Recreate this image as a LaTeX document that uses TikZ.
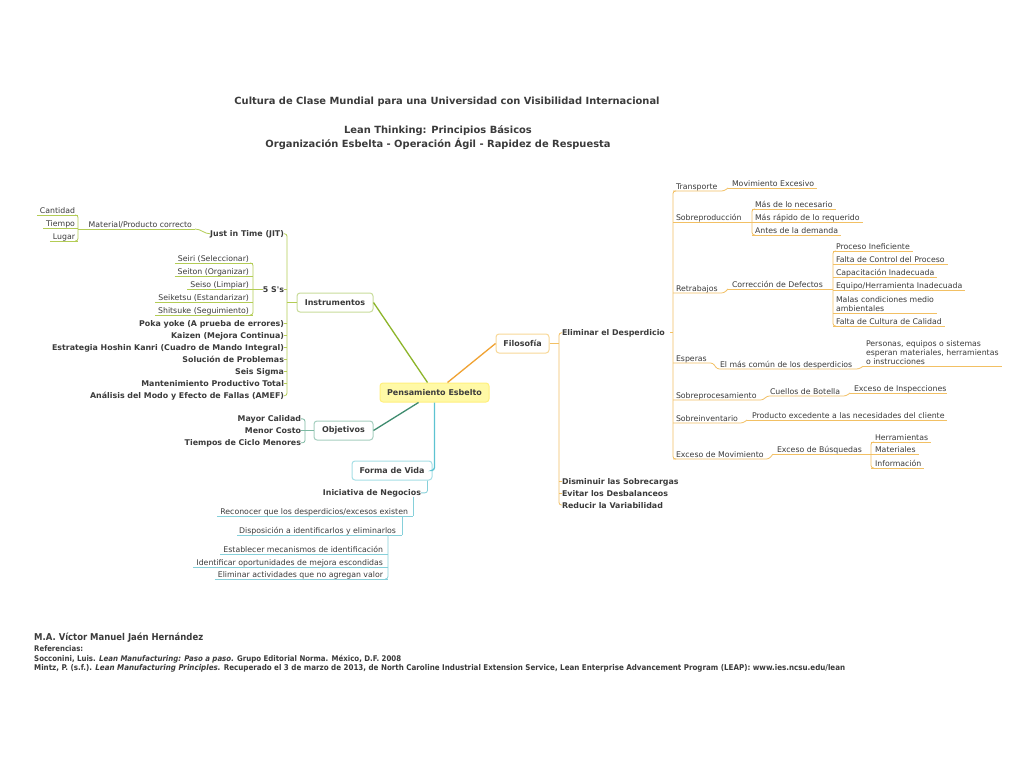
\documentclass[tikz,border=0pt]{standalone}
\usepackage{graphicx}
\usepackage{fontspec}
\setmainfont{DejaVu Sans}
\newfontfamily\condfont{DejaVu Sans Condensed}
\usetikzlibrary{calc}
\definecolor{txt}{HTML}{3B3B3B}
\definecolor{gLine}{HTML}{B3CC55}
\definecolor{gMain}{HTML}{8DB52A}
\definecolor{gBox}{HTML}{C9DC9A}
\definecolor{oLine}{HTML}{F2C064}
\definecolor{oMain}{HTML}{F0A232}
\definecolor{oBox}{HTML}{F8D898}
\definecolor{tLine}{HTML}{7DB9A3}
\definecolor{tMain}{HTML}{3F8C6F}
\definecolor{tBox}{HTML}{A6CFC0}
\definecolor{cLine}{HTML}{86D0DA}
\definecolor{cMain}{HTML}{5CC3D1}
\definecolor{cBox}{HTML}{A6DFE6}
\definecolor{ceFill}{HTML}{FFF9A6}
\definecolor{ceBorder}{HTML}{FFF07E}
% underline below a one-line node: left extension, right extension
\newcommand\ulR[3]{\draw ([xshift=-#2,yshift=-2pt]#1.base west) coordinate (#1-l) -- ([xshift=#3,yshift=-2pt]#1.base east) coordinate (#1-r);}
\newcommand\ulS[3]{\draw ([xshift=-#2,yshift=-2pt]#1.south west) coordinate (#1-l) -- ([xshift=#3,yshift=-2pt]#1.south east) coordinate (#1-r);}
\newcommand\lpt[2]{\coordinate (#1-l) at ([xshift=-#2,yshift=-2pt]#1.base west);}
\begin{document}
\begin{tikzpicture}[x=1pt,y=-1pt,
  every node/.style={text=txt},
  tx/.style={inner sep=0pt,outer sep=0pt,font=\fontsize{7.8}{9.1}\selectfont},
  bx/.style={inner sep=0pt,outer sep=0pt,font=\fontsize{7.9}{9.6}\selectfont\bfseries},
  topic/.style={draw,rounded corners=3pt,line width=1pt,fill=white,minimum height=19pt,inner sep=0pt,font=\fontsize{8}{9.6}\selectfont\bfseries},
  ln/.style={line width=0.8pt,rounded corners=2.5pt},
  mainln/.style={line width=1.3pt},
  ttl/.style={inner sep=0pt,font=\fontsize{9.9}{12}\selectfont\bfseries},
  foot/.style={inner sep=0pt,anchor=west,font=\condfont\bfseries\fontsize{8}{9}\selectfont}]
\useasboundingbox[fill=white] (0,0) rectangle (1024,768);

% titles
\node[ttl] (t1) at (447,102) {Cultura de Clase Mundial para una Universidad con Visibilidad Internacional};
\node[ttl] (t2) at (438,131) {Lean Thinking: Principios Básicos};
\node[ttl] (t3) at (438,144) {Organización Esbelta - Operación Ágil - Rapidez de Respuesta};

% central topic
\node[topic,draw=ceBorder,fill=ceFill,minimum width=109pt] (pe) at (434.5,392.5) {Pensamiento Esbelto};

% ---------------- Instrumentos (green)
\node[topic,draw=gBox,minimum width=76pt] (inst) at (335,302.5) {Instrumentos};
\draw[gMain,mainln] ([xshift=-7pt]pe.north) -- (inst.east);
\node[bx,anchor=base east] (jit) at (284,236) {Just in Time (JIT)};
\node[bx,anchor=base east] (s5) at (284,292) {5 S\textquotesingle s};
\node[bx,anchor=base east] (poka) at (284,326) {Poka yoke (A prueba de errores)};
\node[bx,anchor=base east] (kai) at (284,338) {Kaizen (Mejora Continua)};
\node[bx,anchor=base east] (hosh) at (284,350) {Estrategia Hoshin Kanri (Cuadro de Mando Integral)};
\node[bx,anchor=base east] (sol) at (284,362) {Solución de Problemas};
\node[bx,anchor=base east] (seis) at (284,374) {Seis Sigma};
\node[bx,anchor=base east] (mant) at (284,386) {Mantenimiento Productivo Total};
\node[bx,anchor=base east] (amef) at (284,398) {Análisis del Modo y Efecto de Fallas (AMEF)};
\begin{scope}[gLine,ln]
\coordinate (itr) at ([xshift=3pt]jit.east);
\draw (jit.east) -- (itr) |- (amef.east);
\foreach \nn in {s5,poka,kai,hosh,sol,seis,mant} \draw (\nn.east) -- (\nn.east -| itr);
\draw (inst.west) -- (inst.west -| itr);
\end{scope}
\node[tx,anchor=base east] (mat) at (192,227) {Material/Producto correcto};
\node[tx,anchor=base east] (cant) at (75,213) {Cantidad};
\node[tx,anchor=base east] (tiem) at (75,226) {Tiempo};
\node[tx,anchor=base east] (lug) at (75,239) {Lugar};
\node[tx,anchor=base east] (seiri) at (249,261) {Seiri (Seleccionar)};
\node[tx,anchor=base east] (seiton) at (249,274) {Seiton (Organizar)};
\node[tx,anchor=base east] (seiso) at (249,287) {Seiso (Limpiar)};
\node[tx,anchor=base east] (seiket) at (249,300) {Seiketsu (Estandarizar)};
\node[tx,anchor=base east] (shits) at (249,313) {Shitsuke (Seguimiento)};
\begin{scope}[gLine,ln]
\ulR{cant}{3pt}{3pt}\ulR{tiem}{3pt}{3pt}\ulR{lug}{3pt}{3pt}
\draw ([xshift=-3pt]cant-r) -- (cant-r) -- (lug-r) -- ([xshift=-3pt]lug-r);
\draw ([xshift=3pt,yshift=-2pt]mat.base east) coordinate (mat-r) -- (mat-r -| cant-r);
\draw (mat-r) to[out=0,in=180] (jit.west);
\ulR{seiri}{3pt}{4pt}\ulR{seiton}{3pt}{4pt}\ulR{seiso}{3pt}{4pt}\ulR{seiket}{3pt}{4pt}\ulR{shits}{3pt}{4pt}
\draw ([xshift=-3pt]seiri-r) -- (seiri-r) -- (shits-r) -- ([xshift=-3pt]shits-r);
\draw (s5.west) -- (s5.west -| seiri-r);
\end{scope}

% ---------------- Objetivos (teal)
\node[topic,draw=tBox,minimum width=59pt] (obj) at (343.5,430.5) {Objetivos};
\draw[tMain,mainln] ([xshift=-16pt]pe.south) -- (obj.east);
\node[bx,anchor=base east] (mayor) at (301,421) {Mayor Calidad};
\node[bx,anchor=base east] (menor) at (301,433) {Menor Costo};
\node[bx,anchor=base east] (tiempos) at (301,445) {Tiempos de Ciclo Menores};
\begin{scope}[tLine,ln]
\coordinate (otr) at ([xshift=4pt]mayor.east);
\draw (mayor.east) -- (otr) |- (tiempos.east);
\draw (menor.east) -- (menor.east -| otr);
\draw (obj.west) -- (obj.west -| otr);
\end{scope}

% ---------------- Forma de Vida (cyan)
\node[topic,draw=cBox,minimum width=80pt] (fv) at (392,470.5) {Forma de Vida};
\draw[cMain,mainln,rounded corners=3pt] (pe.south) |- (fv.east);
\node[bx,anchor=base east] (ini) at (421,495) {Iniciativa de Negocios};
\node[tx,anchor=base east] (rec) at (408,514) {Reconocer que los desperdicios/excesos existen};
\node[tx,anchor=base east] (disp) at (396,533) {Disposición a identificarlos y eliminarlos};
\node[tx,anchor=base east] (est) at (383,552) {Establecer mecanismos de identificación};
\node[tx,anchor=base east] (ident) at (383,565) {Identificar oportunidades de mejora escondidas};
\node[tx,anchor=base east] (elimv) at (383,577) {Eliminar actividades que no agregan valor};
\begin{scope}[cLine,ln]
\draw ([xshift=-5pt]fv.south east) |- (ini.east);
\ulR{rec}{3pt}{5pt}
\draw (rec-r |- ini.south) -- (rec-r);
\ulR{disp}{2pt}{6pt}
\draw (disp-r |- rec-r) -- (disp-r);
\ulR{est}{3pt}{5pt}\ulR{ident}{3pt}{5pt}\ulR{elimv}{3pt}{5pt}
\draw (est-r |- disp-r) -- (elimv-r) -- ([xshift=-3pt]elimv-r);
\end{scope}

% ---------------- Filosofia (orange)
\node[topic,draw=oBox,minimum width=53pt] (filo) at (522.5,343.5) {Filosofía};
\draw[oMain,mainln] ([xshift=13pt]pe.north) -- (filo.west);
\node[bx,anchor=base west] (elimd) at (562,335) {Eliminar el Desperdicio};
\node[bx,anchor=base west] (dism) at (562,484) {Disminuir las Sobrecargas};
\node[bx,anchor=base west] (evit) at (562,496) {Evitar los Desbalanceos};
\node[bx,anchor=base west] (reduc) at (562,508) {Reducir la Variabilidad};
\begin{scope}[oLine,ln]
\coordinate (ftr) at ([xshift=-3pt]elimd.west);
\draw (elimd.west) -- (ftr) |- (reduc.west);
\draw (dism.west) -- (dism.west -| ftr);
\draw (evit.west) -- (evit.west -| ftr);
\draw (filo.east) -- (filo.east -| ftr);
\end{scope}

\node[tx,anchor=base west] (trans) at (676,189) {Transporte};
\node[tx,anchor=base west] (sobp) at (676,220) {Sobreproducción};
\node[tx,anchor=base west] (retr) at (676,291) {Retrabajos};
\node[tx,anchor=base west] (esp) at (676,361) {Esperas};
\node[tx,anchor=base west] (sproc) at (676,398) {Sobreprocesamiento};
\node[tx,anchor=base west] (sinv) at (676,421) {Sobreinventario};
\node[tx,anchor=base west] (exmov) at (676,457) {Exceso de Movimiento};
\node[tx,anchor=base west] (mov) at (732,186) {Movimiento Excesivo};
\node[tx,anchor=base west] (mas1) at (755,207) {Más de lo necesario};
\node[tx,anchor=base west] (mas2) at (755,220) {Más rápido de lo requerido};
\node[tx,anchor=base west] (antes) at (755,233) {Antes de la demanda};
\node[tx,anchor=base west] (corr) at (732,287) {Corrección de Defectos};
\node[tx,anchor=base west] (proc) at (836,249) {Proceso Ineficiente};
\node[tx,anchor=base west] (falc) at (836,262) {Falta de Control del Proceso};
\node[tx,anchor=base west] (capa) at (836,275) {Capacitación Inadecuada};
\node[tx,anchor=base west] (equi) at (836,288) {Equipo/Herramienta Inadecuada};
\node[tx,anchor=north west,align=left] (malas) at (836,296.2) {Malas condiciones medio\\ambientales};
\node[tx,anchor=base west] (falcu) at (836,324) {Falta de Cultura de Calidad};
\node[tx,anchor=base west] (comun) at (720,367) {El más común de los desperdicios};
\node[tx,anchor=north west,align=left,font=\fontsize{7.8}{9}\selectfont] (pers) at (866,340.2) {Personas, equipos o sistemas\\esperan materiales, herramientas\\o instrucciones};
\node[tx,anchor=base west] (cuel) at (770,394) {Cuellos de Botella};
\node[tx,anchor=base west] (exins) at (854,391) {Exceso de Inspecciones};
\node[tx,anchor=base west] (prod) at (752,418) {Producto excedente a las necesidades del cliente};
\node[tx,anchor=base west] (bus) at (777,452) {Exceso de Búsquedas};
\node[tx,anchor=base west] (herr) at (875,440) {Herramientas};
\node[tx,anchor=base west] (mat2) at (875,452) {Materiales};
\node[tx,anchor=base west] (info) at (875,466) {Información};

\begin{scope}[oLine,ln]
\foreach \nn in {trans,sobp,retr,esp,sproc,sinv,exmov} {\lpt{\nn}{3pt}}
\draw ([xshift=3pt]trans-l) -- (trans-l) -- (exmov-l) -- ([xshift=3pt]exmov-l);
\draw ([xshift=-3pt]elimd.east -| trans-l) -- (elimd.east -| trans-l);
% transporte
\ulR{mov}{4pt}{3pt}
\draw (trans-l) -- ([xshift=-4pt]trans-l -| mov-l) -- (mov-l);
% sobreproduccion
\ulR{mas1}{3pt}{3pt}\ulR{mas2}{3pt}{3pt}\ulR{antes}{3pt}{3pt}
\draw ([xshift=3pt]mas1-l) -- (mas1-l) -- (antes-l) -- ([xshift=3pt]antes-l);
\draw (sobp-l) -- (sobp-l -| mas1-l);
% retrabajos
\ulR{proc}{3pt}{3pt}\ulR{falc}{3pt}{3pt}\ulR{capa}{3pt}{3pt}\ulR{equi}{3pt}{3pt}
\ulS{malas}{3pt}{3pt}\ulR{falcu}{3pt}{3pt}
\draw ([xshift=3pt]proc-l) -- (proc-l) -- (falcu-l) -- ([xshift=3pt]falcu-l);
\lpt{corr}{4pt}
\draw (corr-l) -- (corr-l -| proc-l);
\draw (retr-l) -- ([xshift=-4pt]retr-l -| corr-l) -- (corr-l);
% esperas
\lpt{comun}{3pt}
\ulS{pers}{3pt}{3pt}
\draw (esp-l) -- ([xshift=-4pt]esp-l -| comun-l) -- (comun-l) -- ([xshift=-4pt]comun-l -| pers-l) -- (pers-l);
% sobreprocesamiento
\lpt{cuel}{3pt}
\ulR{exins}{4pt}{1pt}
\draw (sproc-l) -- ([xshift=-4pt]sproc-l -| cuel-l) -- (cuel-l) -- ([xshift=-4pt]cuel-l -| exins-l) -- (exins-l);
% sobreinventario
\ulR{prod}{5pt}{2pt}
\draw (sinv-l) -- ([xshift=-4pt]sinv-l -| prod-l) -- (prod-l);
% exceso de movimiento
\ulR{herr}{4pt}{3pt}\ulR{mat2}{4pt}{3pt}\ulR{info}{4pt}{3pt}
\draw ([xshift=3pt]herr-l) -- (herr-l) -- (info-l) -- ([xshift=3pt]info-l);
\lpt{bus}{4pt}
\draw (bus-l) -- (bus-l -| herr-l);
\draw (exmov-l) -- ([xshift=-4pt]exmov-l -| bus-l) -- (bus-l);
\end{scope}

% footer
\node[foot] (auth) at (34,638) {\resizebox{169pt}{!}{M.A. Víctor Manuel Jaén Hernández}};
\node[foot] (refs) at (34,649) {\resizebox{49pt}{!}{Referencias:}};
\node[foot] (ref1) at (34,659) {\resizebox{367pt}{!}{Socconini, Luis. \textit{Lean Manufacturing: Paso a paso.} Grupo Editorial Norma. México, D.F. 2008}};
\node[foot] (ref2) at (34,668) {\resizebox{811pt}{!}{Mintz, P. (s.f.). \textit{Lean Manufacturing Principles.} Recuperado el 3 de marzo de 2013, de North Caroline Industrial Extension Service, Lean Enterprise Advancement Program (LEAP): www.ies.ncsu.edu/lean}};
\end{tikzpicture}
\end{document}
